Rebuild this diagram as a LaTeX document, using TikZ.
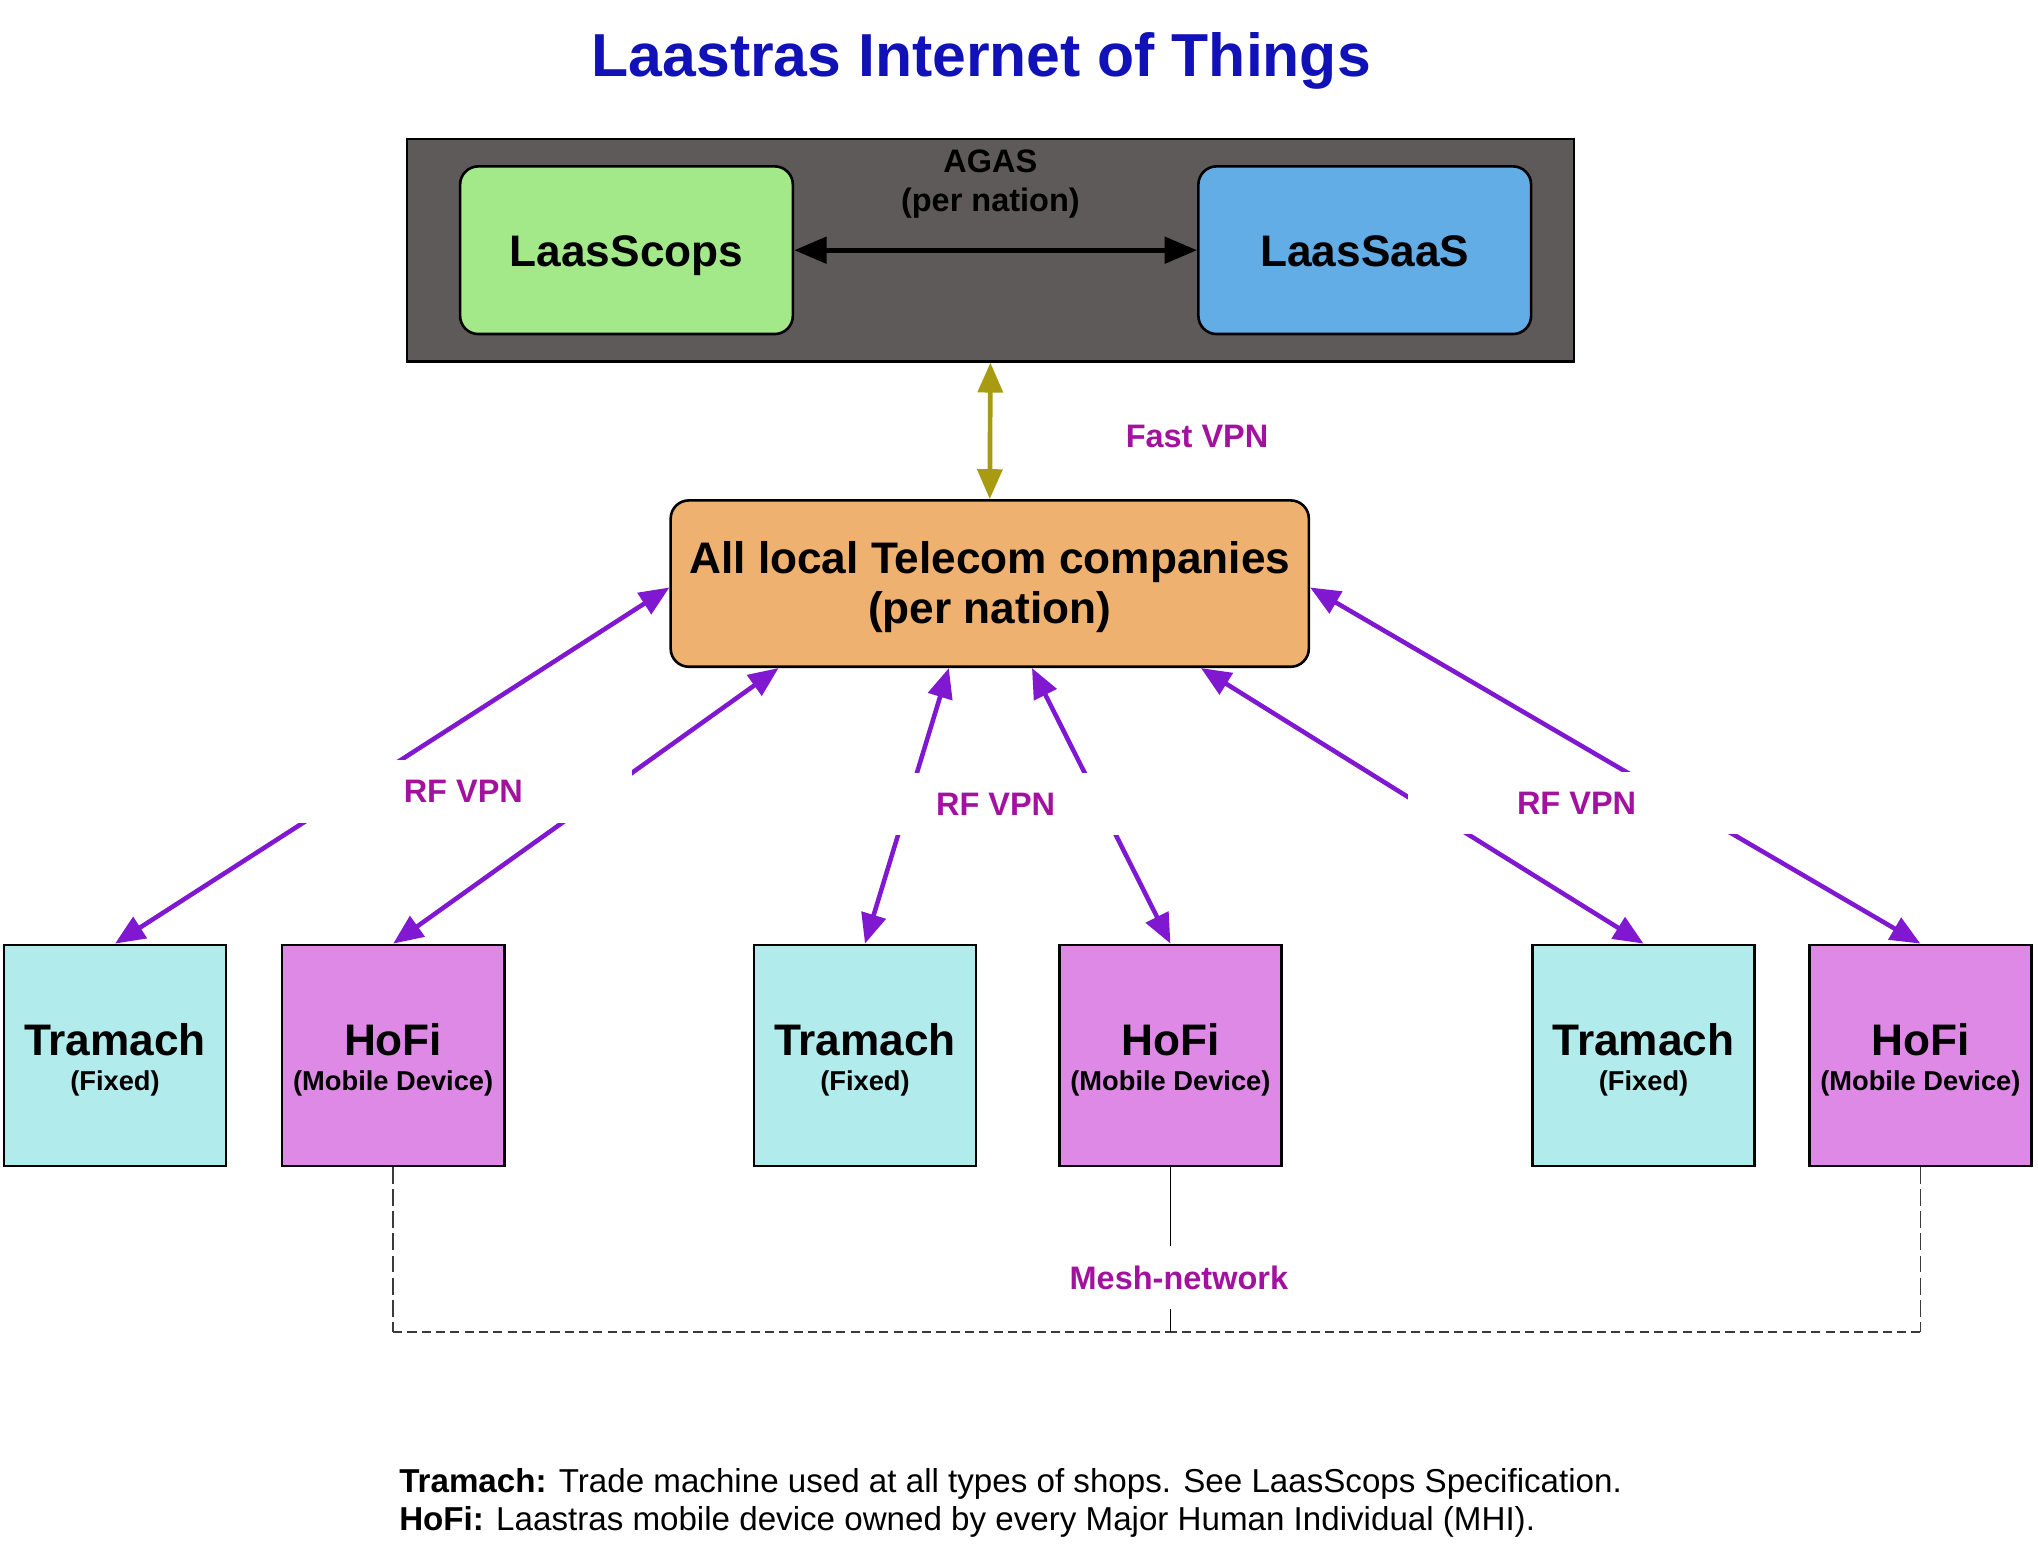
\documentclass[tikz,border=0pt]{standalone}
\usepackage{fontspec}
\setmainfont{Liberation Sans}
\usetikzlibrary{arrows.meta,calc}
\definecolor{titleblue}{HTML}{1111B8}
\definecolor{lblmag}{HTML}{A3129F}
\definecolor{vpnpurple}{HTML}{7F18D0}
\definecolor{olivearrow}{HTML}{A89B12}
\definecolor{agasgray}{HTML}{5E5A59}
\definecolor{scopsgreen}{HTML}{A3E98A}
\definecolor{saasblue}{HTML}{62ADE6}
\definecolor{teleorange}{HTML}{EFB16F}
\definecolor{tramcyan}{HTML}{B2EBEC}
\definecolor{hofiorchid}{HTML}{DF89E6}
\definecolor{meshgray}{HTML}{3A3A3A}
\newcommand{\topstrut}[1]{\rule{0pt}{#1}}
\begin{document}
\begin{tikzpicture}[x=1pt,y=-1pt,
  >={Triangle[length=23pt,width=19pt]},
  box/.style={draw=black,line width=2pt,inner sep=0pt,align=center},
  rbox/.style={box,rounded corners=14pt,minimum width=256pt,minimum height=129pt,
    text height=24.5pt,text depth=0pt,
    font=\fontsize{34}{38}\selectfont\bfseries},
  devbox/.style={box,minimum width=171pt,minimum height=170pt,
    font=\fontsize{34}{27}\selectfont\bfseries},
  tram/.style={devbox,fill=tramcyan},
  hofi/.style={devbox,fill=hofiorchid},
  lbl/.style={text=lblmag,inner sep=0pt,font=\fontsize{25}{30}\selectfont\bfseries},
  cutlbl/.style={lbl,fill=white,minimum width=260pt,minimum height=48pt},
  vpn/.style={draw=vpnpurple,line width=3.5pt,<->},
  fastvpn/.style={draw=olivearrow,line width=3.6pt,<->},
  meshv/.style={draw=meshgray,line width=1.3pt,dash pattern=on 13pt off 4pt},
  meshh/.style={draw=meshgray,line width=1.3pt,dash pattern=on 7pt off 4pt},
  meshs/.style={draw=black,line width=1.3pt}
]
\useasboundingbox (0,0) rectangle (1568,1199);

% title
\node[anchor=base,inner sep=0pt,text=titleblue,
  font=\fontsize{46.7}{50}\selectfont\bfseries] (title) at (755,59)
  {Laastras Internet of Things};

% AGAS cluster
\node[box,fill=agasgray,minimum width=898pt,minimum height=171pt] (agas) at (762,192.5) {};
\node[anchor=north,inner sep=0pt,align=center,text=black,
  font=\fontsize{25}{30}\selectfont\bfseries] (agaslbl) at (762,115)
  {AGAS\\(per nation)};
\node[rbox,fill=scopsgreen] (scops) at (482,192.5) {LaasScops};
\node[rbox,fill=saasblue] (saas) at (1050,192.5) {LaasSaaS};
\draw[black,line width=4pt,{Triangle[length=25pt,width=20pt]}-{Triangle[length=25pt,width=20pt]}] (scops) -- (saas);

% telecom
\node[box,rounded corners=14pt,fill=teleorange,minimum width=491pt,minimum height=128pt,
  font=\fontsize{34}{39}\selectfont\bfseries] (tele) at (761.5,449)
  {\topstrut{30pt}All local Telecom companies\\(per nation)};
\draw[fastvpn] (agas.south) -- (tele.north);
\node[lbl,anchor=base] (fastlbl) at (921,344) {Fast VPN};

% devices
\node[tram] (t1) at (88.5,812) {\topstrut{31pt}Tramach\\{\fontsize{21}{25}\selectfont (Fixed)}};
\node[hofi] (h1) at (302.5,812) {\topstrut{31pt}HoFi\\{\fontsize{21}{25}\selectfont (Mobile Device)}};
\node[tram] (t2) at (665.5,812) {\topstrut{31pt}Tramach\\{\fontsize{21}{25}\selectfont (Fixed)}};
\node[hofi] (h2) at (900.5,812) {\topstrut{31pt}HoFi\\{\fontsize{21}{25}\selectfont (Mobile Device)}};
\node[tram] (t3) at (1264.5,812) {\topstrut{31pt}Tramach\\{\fontsize{21}{25}\selectfont (Fixed)}};
\node[hofi] (h3) at (1477.5,812) {\topstrut{31pt}HoFi\\{\fontsize{21}{25}\selectfont (Mobile Device)}};

% RF VPN connectors
\draw[vpn] (t1.north) -- ([yshift=-3pt]tele.west);
\draw[vpn] (h1.north) -- ([xshift=84pt]tele.south west);
\draw[vpn] (t2.north) -- ([xshift=215pt]tele.south west);
\draw[vpn] (h2.north) -- ([xshift=279pt]tele.south west);
\draw[vpn] (t3.north) -- ([xshift=409pt]tele.south west);
\draw[vpn] (h3.north) -- ([yshift=-3pt]tele.east);

\node[cutlbl] (rf1) at (356.5,609) {RF VPN};
\node[cutlbl] (rf2) at (766,618.5) {RF VPN};
\node[cutlbl] (rf3) at (1213,618) {RF VPN};

% mesh network
\coordinate (mj) at (900.5,1025);
\draw[meshv] (h1.south) -- (h1.south |- mj);
\draw[meshh] (h1.south |- mj) -- (mj);
\draw[meshv] (h3.south) -- (h3.south |- mj);
\draw[meshh] (h3.south |- mj) -- (mj);
\draw[meshs] (h2.south) -- (mj);
\node[cutlbl] (meshlbl) at (907,983) {Mesh-network};

% notes
\node[anchor=north west,align=left,inner sep=0pt,text=black,
  font=\fontsize{25.5}{29}\selectfont] (notes) at (307,1129.5)
  {\textbf{Tramach:} Trade machine used at all types of shops. See LaasScops Specification.\\
   \textbf{HoFi:} Laastras mobile device owned by every Major Human Individual (MHI).};
\end{tikzpicture}
\end{document}
